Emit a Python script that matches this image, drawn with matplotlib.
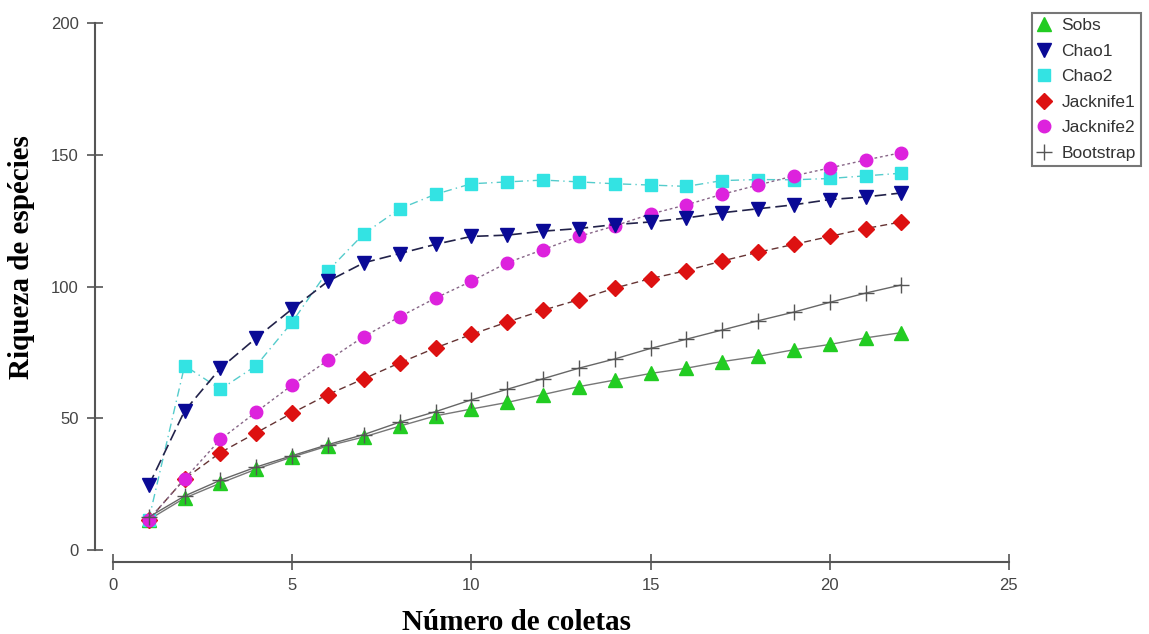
import matplotlib
matplotlib.use("Agg")
import matplotlib.pyplot as plt
import numpy as np

coletas = np.arange(1, 23)

sobs = [11.5, 19.7, 25.4, 30.7, 35.3, 39.5, 42.9, 47.0, 50.9, 53.5, 56.0,
        59.0, 62.0, 64.5, 67.0, 69.0, 71.5, 73.5, 76.0, 78.0, 80.5, 82.5]
chao1 = [24.5, 52.8, 69.0, 80.5, 91.5, 102.0, 109.0, 112.5, 116.0, 119.0, 119.5,
         121.0, 122.0, 123.5, 124.5, 126.0, 128.0, 129.5, 131.0, 133.0, 134.0, 135.5]
chao2 = [11.5, 70.0, 61.0, 70.0, 86.5, 106.0, 120.0, 129.5, 135.0, 139.0, 139.7,
         140.4, 139.7, 139.0, 138.5, 138.0, 140.2, 140.6, 140.5, 141.0, 142.0, 143.0]
jack1 = [11.5, 27.0, 37.0, 44.5, 52.0, 59.0, 65.0, 71.0, 76.7, 81.8, 86.5,
         91.0, 95.0, 99.4, 103.0, 106.0, 109.7, 113.0, 116.0, 119.0, 122.0, 124.5]
jack2 = [11.5, 27.0, 42.0, 52.4, 62.6, 72.0, 81.0, 88.5, 95.6, 102.0, 109.0,
         114.0, 119.0, 123.0, 127.5, 131.0, 135.0, 138.5, 142.0, 145.0, 148.0, 150.8]
boot = [12.5, 20.5, 26.5, 31.5, 35.8, 40.0, 43.8, 48.5, 52.5, 57.0, 61.0,
        65.0, 69.0, 72.5, 76.5, 80.0, 83.5, 87.0, 90.3, 94.0, 97.5, 100.6]

fig = plt.figure(figsize=(11.49, 6.34), dpi=100)
ax = fig.add_axes([0.0983, 0.1325, 0.7798, 0.8312])

ax.plot(coletas, sobs, color="#777777", lw=1.0, ls="-", marker="^", ms=10,
        mfc="#22cc22", mec="#22cc22", label="Sobs", zorder=3)
ax.plot(coletas, chao1, color="#22224a", lw=1.2, ls=(0, (7, 3)), marker="v", ms=10,
        mfc="#0a0a96", mec="#0a0a96", label="Chao1", zorder=4)
ax.plot(coletas, chao2, color="#55cccc", lw=1.0, ls=(0, (6, 3, 1, 3)), marker="s", ms=9,
        mfc="#33e3e3", mec="#33e3e3", label="Chao2", zorder=3)
ax.plot(coletas, jack1, color="#663333", lw=1.0, ls=(0, (5, 3)), marker="D", ms=8,
        mfc="#dd1111", mec="#dd1111", label="Jacknife1", zorder=3)
ax.plot(coletas, jack2, color="#886688", lw=1.0, ls=(0, (2, 2)), marker="o", ms=9,
        mfc="#dd22dd", mec="#dd22dd", label="Jacknife2", zorder=3)
ax.plot(coletas, boot, color="#666666", lw=1.0, ls="-", marker="+", ms=11,
        mew=1.0, mec="#555555", label="Bootstrap", zorder=3)

ax.set_xlim(0, 25)
ax.set_ylim(0, 200)
ax.set_xticks([0, 5, 10, 15, 20, 25])
ax.set_yticks([0, 50, 100, 150, 200])

for s in ["top", "right"]:
    ax.spines[s].set_visible(False)
# spines sit a little away from the data origin, as in the original
ax.spines["left"].set_position(("outward", 13))
ax.spines["bottom"].set_position(("outward", 8.6))
for s in ["left", "bottom"]:
    ax.spines[s].set_color("#555555")
    ax.spines[s].set_linewidth(1.5)
ax.tick_params(direction="inout", length=11, width=1.2, color="#555555",
               labelsize=12, labelcolor="#444444", pad=6)
for lab in ax.get_xticklabels() + ax.get_yticklabels():
    lab.set_family("Liberation Sans")

ax.set_xlabel("Número de coletas", family="Liberation Serif", fontweight="bold",
              fontsize=21)
ax.set_ylabel("Riqueza de espécies", family="Liberation Serif", fontweight="bold",
              fontsize=21)
ax.xaxis.set_label_coords(0.45, -0.137)
ax.yaxis.set_label_coords(-0.1016, 0.556)
ax.xaxis.label.set_va("center")
ax.yaxis.label.set_va("center")

leg = fig.legend(loc="upper left", bbox_to_anchor=(0.898, 0.98), fontsize=12.5,
                 frameon=True, fancybox=False, edgecolor="#555555",
                 handlelength=0.8, handletextpad=0.6, borderpad=0.3,
                 labelspacing=0.6, borderaxespad=0)
leg.get_frame().set_linewidth(1.5)
for t in leg.get_texts():
    t.set_family("Liberation Sans")
    t.set_color("#333333")
for h in leg.legend_handles:
    h.set_linestyle("None")

plt.savefig("out.png", dpi=100)
